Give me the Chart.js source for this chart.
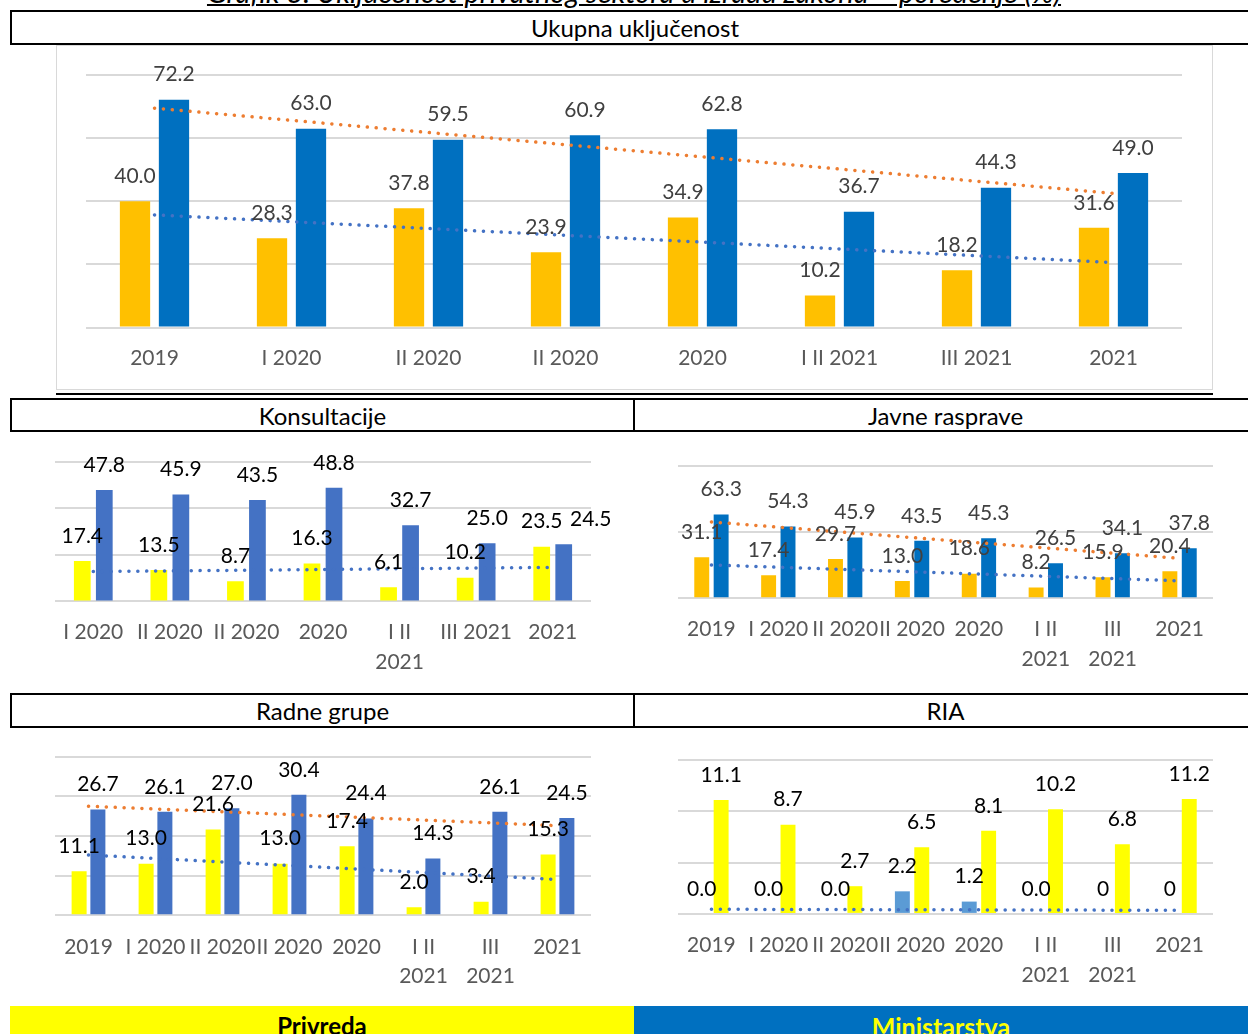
<!DOCTYPE html>
<html lang="bs">
<head>
<meta charset="utf-8">
<title>Uključenost privatnog sektora u izradu zakona</title>
<script src="https://cdn.jsdelivr.net/npm/chart.js@4.4.1/dist/chart.umd.min.js"></script>
<style>
  body { margin: 0; width: 1248px; height: 1034px; overflow: hidden; background: #fff; position: relative; font-family: Lato, sans-serif; }
  .naslov { position: absolute; left: 0; width: 1268px; top: -21px; line-height: 26px; font-size: 29px; font-style: italic; text-align: center; text-decoration: underline; text-decoration-thickness: 2px; color: #000; white-space: nowrap; }
  .zaglavlje { position: absolute; box-sizing: border-box; border: 2px solid #000; font-size: 24px; color: #000; display: flex; align-items: center; justify-content: center; background: #fff; }
  .okvir { position: absolute; box-sizing: border-box; border: 1px solid #D9D9D9; }
  .linija { position: absolute; background: #000; }
  .graf { position: absolute; }
  .legenda { position: absolute; top: 1006px; height: 32px; font-weight: bold; display: flex; justify-content: center; padding-top: 5px; box-sizing: border-box; }
</style>
</head>
<body>

<div class="naslov">Grafik 3. Uključenost privatnog sektora u izradu zakona – poređenje (%)</div>

<div class="zaglavlje" style="left:10px; top:10px; width:1250px; height:35px;">Ukupna uključenost</div>
<div class="okvir" style="left:56px; top:45px; width:1157px; height:345px;"></div>
<div class="graf" style="left:56px; top:45px; width:1157px; height:345px;"><canvas id="ukupno_chart"></canvas></div>
<div class="linija" style="left:56px; top:393px; width:1157px; height:2px;"></div>

<div class="zaglavlje" style="left:10px; top:398px; width:625px; height:34px;">Konsultacije</div>
<div class="zaglavlje" style="left:633px; top:398px; width:625px; height:34px;">Javne rasprave</div>
<div class="graf" style="left:11px; top:432px; width:623px; height:262px;"><canvas id="konsultacije_chart"></canvas></div>
<div class="graf" style="left:634px; top:432px; width:614px; height:262px;"><canvas id="rasprave_chart"></canvas></div>

<div class="zaglavlje" style="left:10px; top:693px; width:625px; height:35px;">Radne grupe</div>
<div class="zaglavlje" style="left:633px; top:693px; width:625px; height:35px;">RIA</div>
<div class="graf" style="left:11px; top:728px; width:623px; height:306px;"><canvas id="radne_chart"></canvas></div>
<div class="graf" style="left:634px; top:728px; width:614px; height:306px;"><canvas id="ria_chart"></canvas></div>

<div class="legenda" style="left:10px; width:624px; background:#FFFF00; color:#000; font-size:24px;">Privreda</div>
<div class="legenda" style="left:634px; width:614px; background:#0070C0; color:#FFFF00; font-size:25px;">Ministarstva</div>

<script>
// --- podaci ---
const ukupnoKategorije = ['2019', 'I 2020', 'II 2020', 'II 2020', '2020', 'I II 2021', 'III 2021', '2021'];
const ukupnoPrivreda = [40.0, 28.3, 37.8, 23.9, 34.9, 10.2, 18.2, 31.6];
const ukupnoMinistarstva = [72.2, 63.0, 59.5, 60.9, 62.8, 36.7, 44.3, 49.0];
const ukupnoTrendPrivreda = [35.7, null, null, null, null, null, null, 20.6];
const ukupnoTrendMinistarstva = [69.5, null, null, null, null, null, null, 42.5];

const konsKategorije = ['I 2020', 'II 2020', 'II 2020', '2020', ['I II', '2021'], 'III 2021', '2021'];
const konsPrivreda = [17.4, 13.5, 8.7, 16.3, 6.1, 10.2, 23.5];
const konsMinistarstva = [47.8, 45.9, 43.5, 48.8, 32.7, 25.0, 24.5];
const konsTrendPrivreda = [12.8, null, null, null, null, null, 14.6];

const raspKategorije = ['2019', 'I 2020', 'II 2020', 'II 2020', '2020', ['I II', '2021'], ['III', '2021'], '2021'];
const raspPrivreda = [31.1, 17.4, 29.7, 13.0, 18.6, 8.2, 15.9, 20.4];
const raspMinistarstva = [63.3, 54.3, 45.9, 43.5, 45.3, 26.5, 34.1, 37.8];
const raspTrendPrivreda = [25.2, null, null, null, null, null, null, 13.2];
const raspTrendMinistarstva = [57.7, null, null, null, null, null, null, 30.2];

const radneKategorije = ['2019', 'I 2020', 'II 2020', 'II 2020', '2020', ['I II', '2021'], ['III', '2021'], '2021'];
const radnePrivreda = [11.1, 13.0, 21.6, 13.0, 17.4, 2.0, 3.4, 15.3];
const radneMinistarstva = [26.7, 26.1, 27.0, 30.4, 24.4, 14.3, 26.1, 24.5];
const radneTrendPrivreda = [15.2, null, null, null, null, null, null, 9.0];
const radneTrendMinistarstva = [27.5, null, null, null, null, null, null, 22.6];

const riaKategorije = ['2019', 'I 2020', 'II 2020', 'II 2020', '2020', ['I II', '2021'], ['III', '2021'], '2021'];
const riaMinistarstva = [0, 0, 0, 2.2, 1.2, 0, 0, 0];
const riaMinistarstvaOznake = ['0.0', '0.0', '0.0', '2.2', '1.2', '0.0', '0', '0'];
const riaPrivreda = [11.1, 8.7, 2.7, 6.5, 8.1, 10.2, 6.8, 11.2];
const riaTrendMinistarstva = [0.45, null, null, null, null, null, null, 0.35];

// --- oznake vrijednosti iznad stubaca ---
const oznakePlugin = {
  id: 'oznake',
  afterDatasetsDraw(chart, args, opts) {
    const ctx = chart.ctx;
    ctx.save();
    ctx.font = '21px Lato';
    ctx.fillStyle = opts.color;
    ctx.textAlign = 'center';
    ctx.textBaseline = 'middle';
    chart.data.datasets.forEach((ds, i) => {
      const meta = chart.getDatasetMeta(i);
      if (meta.type !== 'bar') return;
      meta.data.forEach((bar, j) => {
        const text = ds.oznake ? ds.oznake[j] : ds.data[j].toFixed(1);
        const pomak = (opts.pomak && opts.pomak[i + '-' + j]) || 0;
        ctx.fillText(text, bar.x + pomak, bar.y - 25);
      });
    });
    ctx.restore();
  }
};

function trend(data, boja) {
  return {
    type: 'line', data: data, borderColor: boja, borderWidth: 3.5,
    borderDash: [0.1, 8.8], borderCapStyle: 'round', pointRadius: 0,
    spanGaps: true, fill: false, tension: 0, order: 0
  };
}

function stubci(data, boja, oznake) {
  return { type: 'bar', data: data, backgroundColor: boja, borderWidth: 0, order: 1, oznake: oznake };
}

function napraviGrafik(id, kategorije, datasets, p) {
  const ctx = document.getElementById(id).getContext('2d');
  return new Chart(ctx, {
    data: { labels: kategorije, datasets: datasets },
    options: {
      responsive: true,
      maintainAspectRatio: false,
      animation: false,
      layout: { padding: p.padding },
      datasets: { bar: { categoryPercentage: p.cat, barPercentage: p.bar } },
      plugins: {
        legend: { display: false },
        tooltip: { enabled: false },
        oznake: { color: p.bojaOznaka, pomak: p.pomak }
      },
      scales: {
        x: {
          grid: { display: false, drawTicks: false },
          border: { display: false },
          ticks: {
            color: '#595959', padding: p.tickPadding, autoSkip: false, maxRotation: 0, minRotation: 0,
            font: { family: 'Lato', size: 21, lineHeight: p.lineHeight }
          }
        },
        y: {
          min: 0, max: p.max,
          ticks: { display: false, stepSize: p.step },
          grid: { color: '#D9D9D9', lineWidth: 2, drawTicks: false },
          border: { display: false }
        }
      }
    },
    plugins: [oznakePlugin]
  });
}

napraviGrafik('ukupno_chart', ukupnoKategorije, [
  trend(ukupnoTrendMinistarstva, '#ED7D31'),
  trend(ukupnoTrendPrivreda, '#4472C4'),
  stubci(ukupnoPrivreda, '#FFC000'),
  stubci(ukupnoMinistarstva, '#0070C0')
], { padding: { left: 30, right: 31, top: 30, bottom: 0.4 }, cat: 0.569, bar: 0.777, bojaOznaka: '#404040',
     tickPadding: 18.4, lineHeight: 1.2, max: 80, step: 20 });

napraviGrafik('konsultacije_chart', konsKategorije, [
  trend(konsTrendPrivreda, '#4472C4'),
  stubci(konsPrivreda, '#FFFF00'),
  stubci(konsMinistarstva, '#4472C4')
], { padding: { left: 44, right: 43, top: 29.7, bottom: 0.6 }, cat: 0.575, bar: 0.76, bojaOznaka: '#000',
     pomak: { '2-6': 27 }, tickPadding: 16, lineHeight: 30 / 21, max: 60, step: 20 });

napraviGrafik('rasprave_chart', raspKategorije, [
  trend(raspTrendMinistarstva, '#ED7D31'),
  trend(raspTrendPrivreda, '#4472C4'),
  stubci(raspPrivreda, '#FFC000'),
  stubci(raspMinistarstva, '#0070C0')
], { padding: { left: 44, right: 35, top: 34, bottom: 3.7 }, cat: 0.58, bar: 0.77, bojaOznaka: '#404040',
     tickPadding: 16, lineHeight: 30 / 21, max: 100, step: 50 });

napraviGrafik('radne_chart', radneKategorije, [
  trend(radneTrendMinistarstva, '#ED7D31'),
  trend(radneTrendPrivreda, '#4472C4'),
  stubci(radnePrivreda, '#FFFF00'),
  stubci(radneMinistarstva, '#4472C4')
], { padding: { left: 44, right: 43, top: 28.7, bottom: 25.8 }, cat: 0.56, bar: 0.8, bojaOznaka: '#000',
     tickPadding: 18.2, lineHeight: 28.3 / 21, max: 40, step: 10 });

napraviGrafik('ria_chart', riaKategorije, [
  trend(riaTrendMinistarstva, '#4472C4'),
  stubci(riaMinistarstva, '#5B9BD5', riaMinistarstvaOznake),
  stubci(riaPrivreda, '#FFFF00')
], { padding: { left: 44, right: 35, top: 32, bottom: 27.1 }, cat: 0.58, bar: 0.77, bojaOznaka: '#000',
     tickPadding: 16.1, lineHeight: 30.4 / 21, max: 15, step: 5 });
</script>
</body>
</html>
